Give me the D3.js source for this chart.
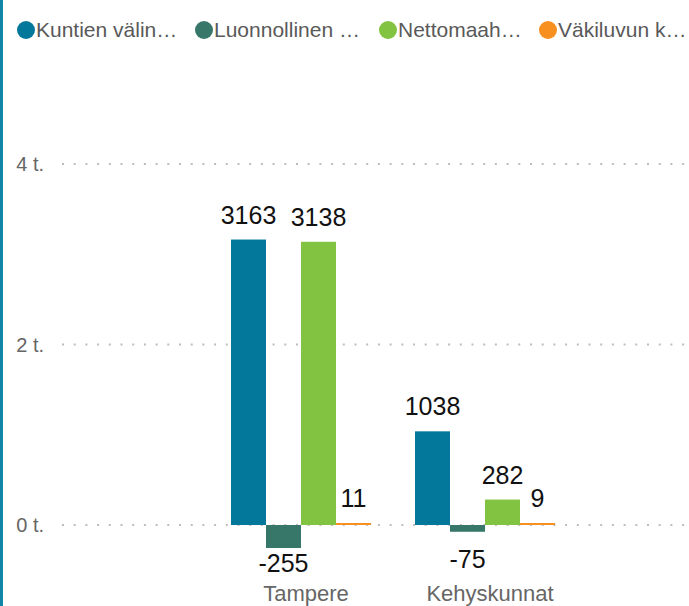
<!DOCTYPE html>
<meta charset="utf-8">
<style>
body { margin: 0; }
svg { display: block; font-family: "Liberation Sans", Arial, sans-serif; }
.legend text { fill: #595959; font-size: 21px; }
.axis text { fill: #666; font-size: 20px; }
.cat text { fill: #666; font-size: 22px; }
.val { fill: #111; font-size: 25px; }
</style>
<svg width="689" height="606"></svg>
<script src="https://d3js.org/d3.v7.min.js"></script>
<script>

var categories = ["Tampere", "Kehyskunnat"];
var series = ["Kuntien välin…", "Luonnollinen …", "Nettomaah…", "Väkiluvun k…"];
var colors = ["#03789b", "#36776a", "#82c341", "#f7901e"];
var values = [
  [3163, -255, 3138, 11],   // Tampere
  [1038, -75, 282, 9]       // Kehyskunnat
];
var yTicks = [0, 2000, 4000];
var yTickLabels = ["0 t.", "2 t.", "4 t."];
var legendX = [26, 204, 388, 548];

var svg = d3.select("svg");

// left accent border
svg.append("rect").attr("x", 0).attr("y", 0).attr("width", 3).attr("height", 606).attr("fill", "#1186a6");

var y = d3.scaleLinear().domain([0, 4000]).range([525, 164]);

var x0 = d3.scaleBand().domain(categories).range([231, 555]).paddingInner(44 / 184).paddingOuter(0);
var x1 = d3.scaleBand().domain(d3.range(series.length)).range([0, x0.bandwidth()]);

// gridlines
var grid = svg.append("g").attr("class", "axis");
yTicks.forEach(function(t, i) {
  grid.append("line")
    .attr("x1", 62).attr("x2", 689)
    .attr("y1", y(t)).attr("y2", y(t))
    .attr("stroke", "#bdbdbd").attr("stroke-width", 2)
    .attr("stroke-dasharray", "2,9.7");
  grid.append("text")
    .attr("x", 44).attr("y", y(t) + 7)
    .attr("text-anchor", "end")
    .text(yTickLabels[i]);
});

// bars
var groups = svg.selectAll(".grp")
  .data(values)
  .enter().append("g")
    .attr("class", "grp")
    .attr("transform", function(d, i) { return "translate(" + x0(categories[i]) + ",0)"; });

groups.selectAll("rect")
  .data(function(d) { return d; })
  .enter().append("rect")
    .attr("x", function(d, j) { return x1(j); })
    .attr("width", x1.bandwidth())
    .attr("y", function(d) { return d >= 0 ? Math.min(y(d), y(0) - 2) : y(0); })
    .attr("height", function(d) { return Math.max(Math.abs(y(d) - y(0)), 2); })
    .attr("fill", function(d, j) { return colors[j]; });

groups.selectAll("text")
  .data(function(d) { return d; })
  .enter().append("text")
    .attr("class", "val")
    .attr("text-anchor", "middle")
    .attr("x", function(d, j) { return x1(j) + x1.bandwidth() / 2; })
    .attr("y", function(d) {
      return d >= 0 ? Math.min(y(d), y(0) - 2) - 16
                    : Math.max(y(0) + Math.abs(y(d) - y(0)) + 24, y(0) + 43);
    })
    .text(function(d) { return d; });

// category labels
var cat = svg.append("g").attr("class", "cat");
categories.forEach(function(c) {
  cat.append("text")
    .attr("x", x0(c) + x0.bandwidth() / 2 + 5)
    .attr("y", 601)
    .attr("text-anchor", "middle")
    .text(c);
});

// legend
var lg = svg.append("g").attr("class", "legend");
series.forEach(function(s, i) {
  lg.append("circle").attr("cx", legendX[i]).attr("cy", 30).attr("r", 9).attr("fill", colors[i]);
  lg.append("text").attr("x", legendX[i] + 10).attr("y", 37).text(s);
});

</script>
